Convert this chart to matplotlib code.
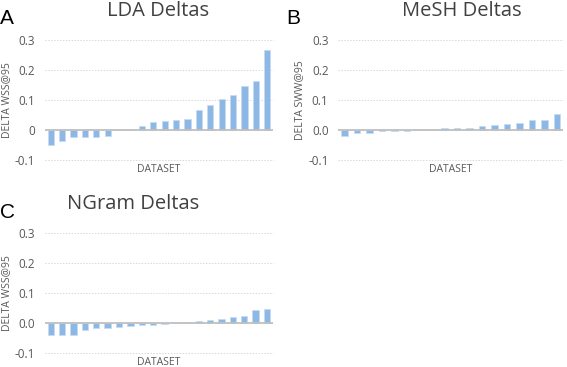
import matplotlib
matplotlib.use("Agg")
import matplotlib.pyplot as plt
import numpy as np

lda_vals = [-0.050, -0.036, -0.023, -0.023, -0.023, -0.020, 0.002, 0.002, 0.014, 0.028,
            0.032, 0.033, 0.038, 0.066, 0.085, 0.105, 0.118, 0.146, 0.163, 0.268]
mesh_vals = [-0.018, -0.010, -0.010, -0.003, -0.003, -0.003, 0.000, 0.002, 0.007, 0.008,
             0.009, 0.013, 0.016, 0.021, 0.023, 0.035, 0.035, 0.054]
ngram_vals = [-0.040, -0.040, -0.040, -0.024, -0.018, -0.016, -0.013, -0.011, -0.007, -0.007,
              -0.005, 0.000, 0.000, 0.005, 0.009, 0.011, 0.018, 0.022, 0.041, 0.045]

yticks = [-0.1, 0.0, 0.1, 0.2, 0.3]
ytick_labels_a = ["-0.1", "0", "0.1", "0.2", "0.3"]
ytick_labels_bc = ["-0.1", "0.0", "0.1", "0.2", "0.3"]

W, H = 567, 367
fig = plt.figure(figsize=(W / 100, H / 100), dpi=100)

FONT = "Open Sans"
TXT = "#595959"
BAR = "#8db8e6"
EDGE = "#c5dcf3"

def px_axes(x0, x1, ytop, ybot):
    return fig.add_axes([x0 / W, 1 - ybot / H, (x1 - x0) / W, (ybot - ytop) / H])

def draw(ax, vals, labels, ylabel):
    x = np.arange(len(vals))
    ax.set_xlim(-0.5, len(vals) - 0.5)
    ax.set_ylim(-0.1, 0.3)
    ax.set_yticks(yticks)
    ax.set_yticklabels(labels, fontsize=8.5, color=TXT, family=FONT)
    ax.tick_params(axis="y", length=0, pad=7)
    ax.set_xticks([])
    for s in ax.spines.values():
        s.set_visible(False)
    for yv in [-0.1, 0.1, 0.2, 0.3]:
        ax.axhline(yv, color="#d9d9d9", lw=0.7, ls=(0, (1.5, 1.5)), zorder=0, clip_on=False)
    ax.bar(x, vals, width=0.55, color=BAR, edgecolor=EDGE, linewidth=0.6, zorder=2)
    ax.axhline(0, color="#bfbfbf", lw=1.3, zorder=3)
    ax.set_ylabel(ylabel, fontsize=7.5, color=TXT, family=FONT, labelpad=2)
    ax.set_xlabel("DATASET", fontsize=7.5, color=TXT, family=FONT, labelpad=3)

axA = px_axes(45, 273, 40.3, 160.3)
draw(axA, lda_vals, ytick_labels_a, "DELTA WSS@95")
axB = px_axes(338.3, 563.3, 40.3, 160.3)
draw(axB, mesh_vals, ytick_labels_bc, "DELTA SWW@95")
axC = px_axes(45, 272.7, 232.7, 352.7)
draw(axC, ngram_vals, ytick_labels_bc, "DELTA WSS@95")

def ftext(xp, yp, s, **kw):
    fig.text(xp / W, 1 - yp / H, s, **kw)

title_kw = dict(fontsize=14.5, color="#404040", family=FONT, ha="center", va="center")
ftext(158, 11, "LDA Deltas", **title_kw)
ftext(462, 11, "MeSH Deltas", **title_kw)
ftext(133, 204, "NGram Deltas", **title_kw)

letter_kw = dict(fontsize=15, color="black", family="Liberation Sans", ha="left", va="center")
ftext(0, 18.5, "A", **letter_kw)
ftext(286, 18.5, "B", **letter_kw)
ftext(0, 212, "C", **letter_kw)

fig.savefig("out.png", dpi=100)
